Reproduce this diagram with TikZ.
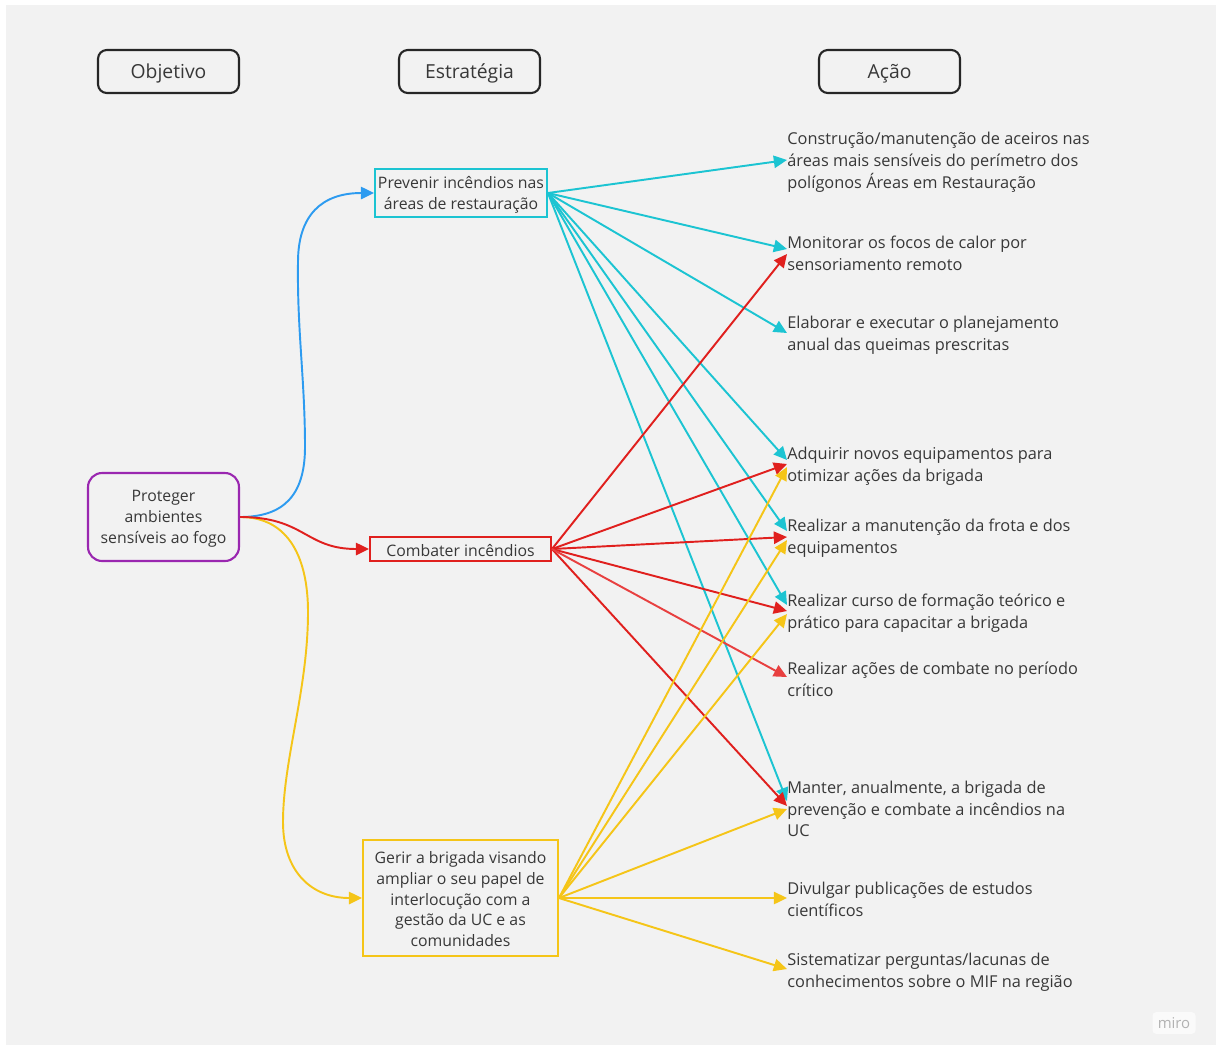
\documentclass[tikz,border=0pt]{standalone}
\usepackage{fontspec}
\setmainfont{Open Sans}
\usetikzlibrary{arrows.meta}
\definecolor{bg}{HTML}{F2F2F2}
\definecolor{txt}{HTML}{383838}
\definecolor{cy}{HTML}{1CC4D2}
\definecolor{bl}{HTML}{2D9BF0}
\definecolor{rd}{HTML}{E0201E}
\definecolor{rdl}{HTML}{E84040}
\definecolor{ye}{HTML}{F5C518}
\definecolor{pu}{HTML}{9A27B0}
\tikzset{
  hdr/.style={draw=black!85, line width=1.2pt, rounded corners=5pt, minimum width=2.82cm, minimum height=0.86cm, font=\fontsize{11}{13}\selectfont, text=txt, inner sep=0pt, text height=7.8pt, text depth=0pt},
  obj/.style={draw=pu, line width=1.2pt, rounded corners=8pt, minimum width=3.02cm, minimum height=1.76cm, inner sep=0pt},
  strat/.style={line width=1.1pt, inner sep=0pt},
  stext/.style={align=center, font=\fontsize{9}{11.9}\selectfont, text=txt, inner sep=0pt},
  act/.style={anchor=west, align=left, font=\fontsize{9.3}{12.4}\selectfont, text=txt, inner sep=0pt},
  conn/.style={line width=1.1pt, -{Triangle[length=7.5pt,width=7pt]}},
}
\begin{document}
\begin{tikzpicture}[x=0.02cm,y=-0.02cm]
\useasboundingbox (0,0) rectangle (1220,1049);
\fill[white] (0,0) rectangle (1220,1049);
\fill[bg] (6,5) rectangle (1216,1045);

% headers
\node[hdr] (h1) at (168.5,71.5) {Objetivo};
\node[hdr] (h2) at (469.5,71.5) {Estratégia};
\node[hdr] (h3) at (889.5,71.5) {Ação};

% objective
\node[obj] (o) at (163.5,517) {};
\node[stext] (ot) at ([yshift=-1.1pt]o.center) {Proteger\\ambientes\\sensíveis ao fogo};

% strategies
\node[strat, draw=cy, minimum width=3.44cm, minimum height=0.96cm] (s1) at (461,193) {};
\node[stext] (s1t) at ([yshift=-1.1pt]s1.center) {Prevenir incêndios nas\\áreas de restauração};
\node[strat, draw=rd, minimum width=3.62cm, minimum height=0.48cm] (s2) at (460.5,549) {};
\node[stext] (s2t) at ([yshift=-0.6pt]s2.center) {Combater incêndios};
\node[strat, draw=ye, minimum width=3.9cm, minimum height=2.32cm] (s3) at (460.5,898) {};
\node[stext] (s3t) at ([yshift=-0.6pt]s3.center) {Gerir a brigada visando\\ampliar o seu papel de\\interlocução com a\\gestão da UC e as\\comunidades};

% actions
\node[act] (a1) at (787,162) {Construção/manutenção de aceiros nas\\áreas mais sensíveis do perímetro dos\\polígonos Áreas em Restauração};
\node[act] (a2) at (787,253.5) {Monitorar os focos de calor por\\sensoriamento remoto};
\node[act] (a3) at (787,335) {Elaborar e executar o planejamento\\anual das queimas prescritas};
\node[act] (a4) at (787,466) {Adquirir novos equipamentos para\\otimizar ações da brigada};
\node[act] (a5) at (787,538) {Realizar a manutenção da frota e dos\\equipamentos};
\node[act] (a6) at (787,613) {Realizar curso de formação teórico e\\prático para capacitar a brigada};
\node[act] (a7) at (787,679) {Realizar ações de combate no período\\crítico};
\node[act] (a8) at (787,809) {Manter, anualmente, a brigada de\\prevenção e combate a incêndios na\\UC};
\node[act] (a9) at (787,899) {Divulgar publicações de estudos\\científicos};
\node[act] (a10) at (787,972) {Sistematizar perguntas/lacunas de\\conhecimentos sobre o MIF na região};

% arrow tip points
\coordinate (c1) at (787,160);
\coordinate (c2) at (787,249);
\coordinate (c3) at (787,333);
\coordinate (c4) at (787,460);
\coordinate (c5) at (787,531);
\coordinate (c6) at (787,605);
\coordinate (c8) at (787,801);
\coordinate (r2) at (787,254);
\coordinate (r4) at (787,464);
\coordinate (r5) at (787,537);
\coordinate (r6) at (787,611);
\coordinate (r7) at (787,677);
\coordinate (r8) at (787,806);
\coordinate (y4) at (787,467);
\coordinate (y5) at (787,540);
\coordinate (y6) at (787,614);
\coordinate (y8) at (787,809);
\coordinate (y9) at (787,898);
\coordinate (y10) at (787,969);

% curves from objective
\draw[conn, bl] (o.east) .. controls (282,517) and (305,497) .. (305,447)
  .. controls (305,380) and (297,330) .. (298,262)
  .. controls (298,215) and (322,193) .. (s1.west);
\draw[conn, ye] (o.east) .. controls (290,517) and (308,560) .. (308,612)
  .. controls (308,690) and (283,760) .. (283,822)
  .. controls (283,872) and (312,898) .. (s3.west);
\draw[conn, rd] (o.east) .. controls (305,517) and (305,549) .. (s2.west);

% cyan
\foreach \t in {c1,c2,c3,c4,c5,c6,c8} \draw[conn, cy] (s1.east) -- (\t);
% red
\foreach \t in {r2,r4,r5,r6,r8} \draw[conn, rd] (s2.east) -- (\t);
\draw[conn, rdl] (s2.east) -- (r7);
% yellow
\foreach \t in {y4,y5,y6,y8,y9,y10} \draw[conn, ye] (s3.east) -- (\t);

% watermark
\node[fill=white!60!bg, rounded corners=2pt, text=black!30, font=\fontsize{8.5}{10}\selectfont, inner sep=3pt] (wm) at (1174,1023) {miro};
\end{tikzpicture}
\end{document}
